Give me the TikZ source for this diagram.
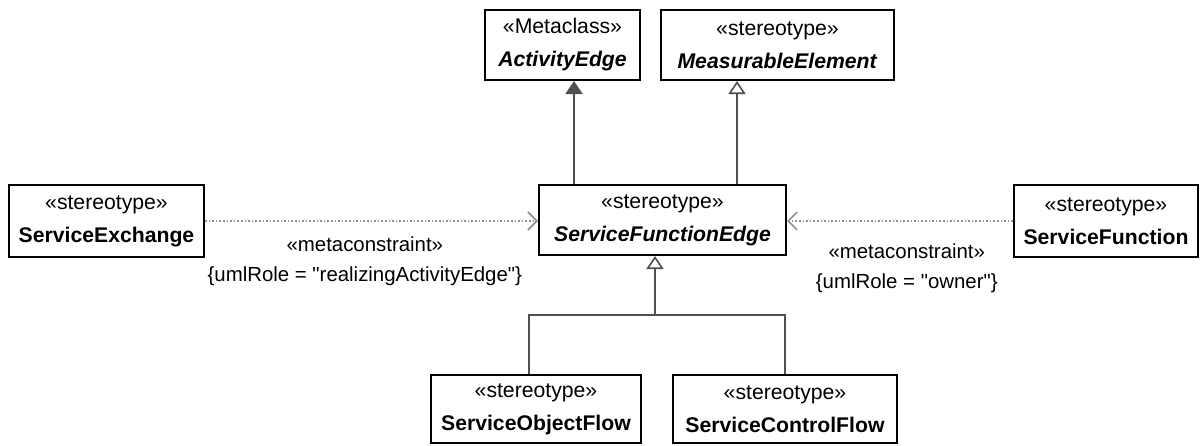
\documentclass[tikz,border=0pt]{standalone}
\usepackage{fontspec}
\setmainfont{Liberation Sans}[Ligatures=TeXOff]
\usetikzlibrary{arrows.meta,positioning}
\definecolor{edgegray}{RGB}{80,80,80}
\definecolor{dotgray}{RGB}{145,145,145}

\begin{document}
\begin{tikzpicture}[
  x=0.5pt, y=-0.5pt,
  box/.style={draw, line width=1pt, align=center, inner sep=0pt,
    font=\fontsize{10.6}{16.5}\selectfont},
  extend/.style={-{Triangle[length=6.5pt,width=8.5pt]}, line width=0.8pt, draw=edgegray},
  general/.style={-{Triangle[open,length=6.5pt,width=8.5pt,fill=white]}, line width=0.8pt, draw=edgegray},
  tree/.style={line width=0.8pt, draw=edgegray},
  meta/.style={-{Straight Barb[length=4.5pt,width=9pt]}, line width=0.8pt, draw=dotgray, densely dotted},
  conlabel/.style={font=\fontsize{10.2}{15}\selectfont, align=center, inner sep=0pt}
]
\useasboundingbox (0,0) rectangle (1200,445);

% Metaclass and measurable parent.
\node[box, minimum width=77.5pt, minimum height=35pt] (ae) at (562.5,45) {
  «Metaclass»\\
  \textbf{\itshape ActivityEdge}
};

\node[box, minimum width=116.5pt, minimum height=35pt] (me) at (777.5,45) {
  «stereotype»\\
  \textbf{\itshape MeasurableElement}
};

% Central abstract stereotype.
\node[box, minimum width=123.5pt, minimum height=35pt] (sfe) at (662.5,220) {
  «stereotype»\\
  \textbf{\itshape ServiceFunctionEdge}
};

% Constrained stereotypes at both sides.
\node[box, minimum width=97.5pt, minimum height=36pt] (se) at (106.5,221) {
  «stereotype»\\
  \textbf{ServiceExchange}
};

\node[box, minimum width=92pt, minimum height=36pt] (sf) at (1106,221) {
  «stereotype»\\
  \textbf{ServiceFunction}
};

% Concrete flows.
\node[box, minimum width=105pt, minimum height=34pt] (sof) at (536,409) {
  «stereotype»\\
  \textbf{ServiceObjectFlow}
};

\node[box, minimum width=112pt, minimum height=34pt] (scf) at (785,409) {
  «stereotype»\\
  \textbf{ServiceControlFlow}
};

% Extension and generalization upwards.
\draw[extend] ([xshift=-44.25pt]sfe.north) -- ([xshift=-44.25pt]sfe.north |- ae.south);
\draw[general] ([xshift=37.25pt]sfe.north) -- ([xshift=37.25pt]sfe.north |- me.south);

% Metaconstraints.
\draw[meta] (se.east) -- node[conlabel, pos=0.48, yshift=-20pt] (leftrole)
  {«metaconstraint»\\\{umlRole = "realizingActivityEdge"\}} (se.east -| sfe.west);
\draw[meta] (sf.west) -- node[conlabel, pos=0.47, yshift=-23.5pt] (rightrole)
  {«metaconstraint»\\\{umlRole = "owner"\}} (sf.west -| sfe.east);

% Flows generalize the edge.
\coordinate (join) at (655,315);
\draw[tree] ([xshift=-3.65pt]sof.north) |- (join) -| (scf.north);
\draw[general] (join) -- (join |- sfe.south);

\end{tikzpicture}
\end{document}
